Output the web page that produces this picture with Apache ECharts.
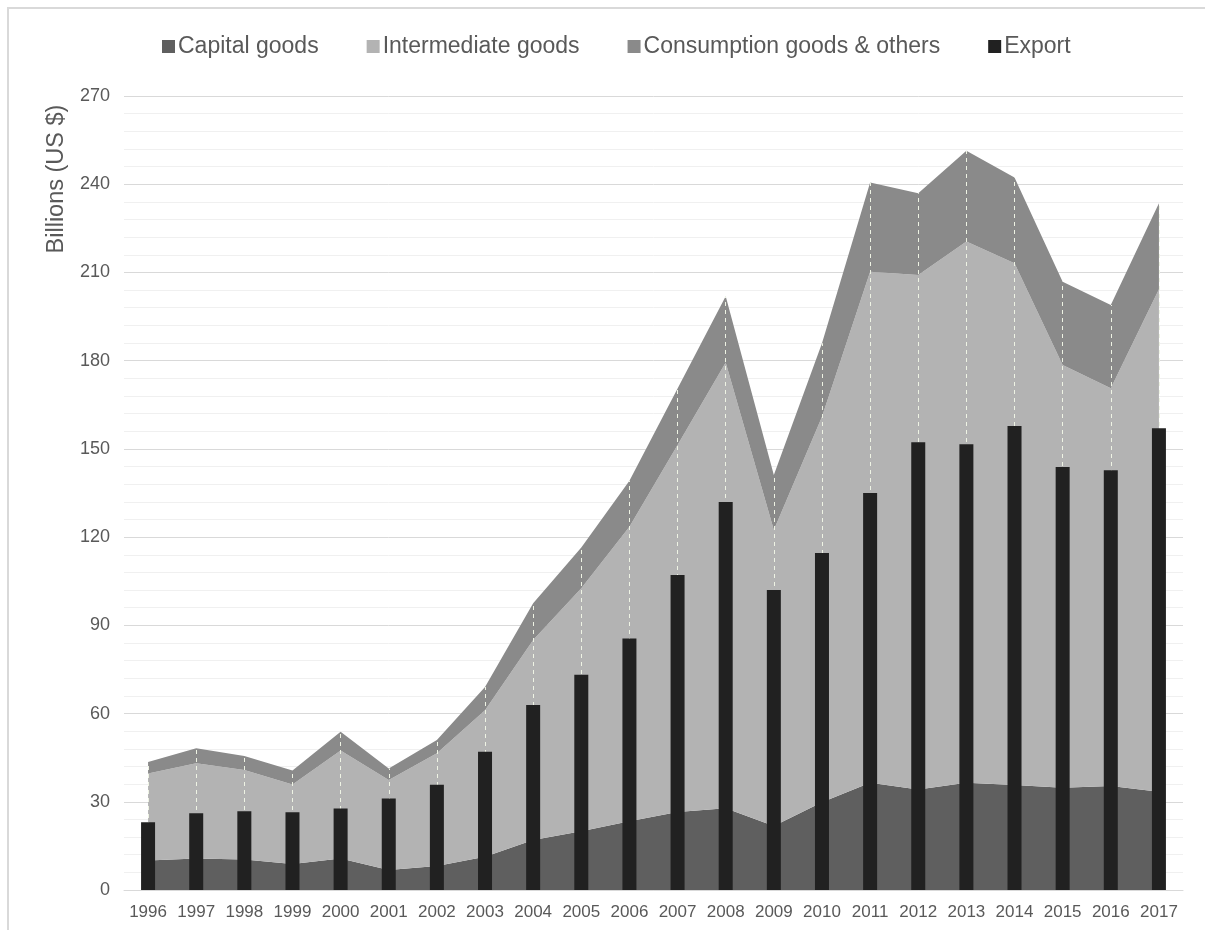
<!DOCTYPE html>
<html>
<head>
<meta charset="utf-8">
<script src="https://cdn.jsdelivr.net/npm/echarts@6/dist/echarts.min.js"></script>
<style>
html,body{margin:0;padding:0;background:#fff;}
#chart{width:1205px;height:930px;}
</style>
</head>
<body>
<div id="chart"></div>
<script>
const years = ['1996','1997','1998','1999','2000','2001','2002','2003','2004','2005','2006','2007','2008','2009','2010','2011','2012','2013','2014','2015','2016','2017'];
const capitalGoods = [10.0,10.7,10.4,8.8,10.7,6.8,8.2,11.3,17.0,20.0,23.4,26.5,27.8,21.8,29.8,36.5,34.2,36.5,35.7,34.8,35.4,33.4];
const intermediateGoods = [29.6,32.4,30.4,27.1,36.7,30.6,38.3,49.8,68.0,82.6,100.1,124.8,151.6,100.6,131.1,173.7,174.9,184.0,177.4,143.7,135.2,170.9];
const consumptionGoods = [3.9,5.1,4.8,4.7,6.4,3.9,4.5,7.9,12.5,13.9,15.7,19.2,22.5,18.7,25.0,30.4,27.8,30.9,29.2,28.3,28.3,29.2];
const exportValues = [23.0,26.1,26.8,26.4,27.7,31.1,35.8,47.0,62.9,73.2,85.5,107.1,131.9,102.0,114.6,135.0,152.3,151.6,157.8,143.8,142.7,157.0];
const yMin = 0, yMax = 270, yInterval = 30;

const FONT = '"Liberation Sans", Arial, sans-serif';
const TXT = '#595959';
const totals = years.map((_, i) => capitalGoods[i] + intermediateGoods[i] + consumptionGoods[i]);

const chart = echarts.init(document.getElementById('chart'));
chart.setOption({
  animation: false,
  backgroundColor: '#fff',
  textStyle: { fontFamily: FONT },
  graphic: [
    { type: 'rect', shape: { x: 8, y: 8, width: 1250, height: 1000 }, style: { fill: 'none', stroke: '#d9d9d9', lineWidth: 2 }, silent: true },
    { type: 'text', x: 57, y: 179, rotation: Math.PI / 2, style: { text: 'Billions (US $)', textAlign: 'center', textVerticalAlign: 'middle', fontSize: 23.5, fontFamily: FONT, fill: TXT } }
  ],
  legend: {
    top: 30,
    left: 157,
    itemWidth: 13,
    itemHeight: 13,
    itemGap: 48,
    icon: 'rect',
    textStyle: { fontSize: 23, color: TXT, fontFamily: FONT, padding: [0, 0, 0, -2] },
    data: ['Capital goods', 'Intermediate goods', 'Consumption goods & others', 'Export']
  },
  grid: { left: 124, right: 22, top: 96, bottom: 40, containLabel: false },
  xAxis: {
    type: 'category',
    data: years,
    boundaryGap: true,
    axisLine: { show: true, lineStyle: { color: '#d9d9d9', width: 1 } },
    axisTick: { show: false },
    axisLabel: { color: TXT, fontSize: 17, fontFamily: FONT, margin: 14, interval: 0 },
    splitLine: { show: false }
  },
  yAxis: {
    type: 'value',
    min: yMin, max: yMax, interval: yInterval,
    axisLine: { show: false },
    axisTick: { show: false },
    axisLabel: { color: TXT, fontSize: 18, fontFamily: FONT, margin: 14 },
    splitLine: { show: true, lineStyle: { color: '#d9d9d9', width: 1 } },
    minorTick: { show: false, splitNumber: 5 },
    minorSplitLine: { show: true, lineStyle: { color: '#f0f0f0', width: 1 } }
  },
  series: [
    {
      name: 'Capital goods', type: 'line', stack: 'total', data: capitalGoods,
      showSymbol: false, symbol: 'none', lineStyle: { width: 0 },
      itemStyle: { color: '#5f5f5f' }, areaStyle: { color: '#5f5f5f', opacity: 1 }, z: 2
    },
    {
      name: 'Intermediate goods', type: 'line', stack: 'total', data: intermediateGoods,
      showSymbol: false, symbol: 'none', lineStyle: { width: 0 },
      itemStyle: { color: '#b3b3b3' }, areaStyle: { color: '#b3b3b3', opacity: 1 }, z: 2
    },
    {
      name: 'Consumption goods & others', type: 'line', stack: 'total', data: consumptionGoods,
      showSymbol: false, symbol: 'none', lineStyle: { width: 0 },
      itemStyle: { color: '#8a8a8a' }, areaStyle: { color: '#8a8a8a', opacity: 1 }, z: 2,
      markLine: {
        silent: true, symbol: ['none', 'none'], label: { show: false },
        lineStyle: { color: '#eef3e4', type: [4, 4], width: 1 },
        data: years.map((y, i) => [{ coord: [y, 0] }, { coord: [y, totals[i]] }]),
        z: 3
      }
    },
    {
      name: 'Export', type: 'bar', data: exportValues, barWidth: 14,
      itemStyle: { color: '#212121' }, z: 5
    }
  ]
});
</script>
</body>
</html>
